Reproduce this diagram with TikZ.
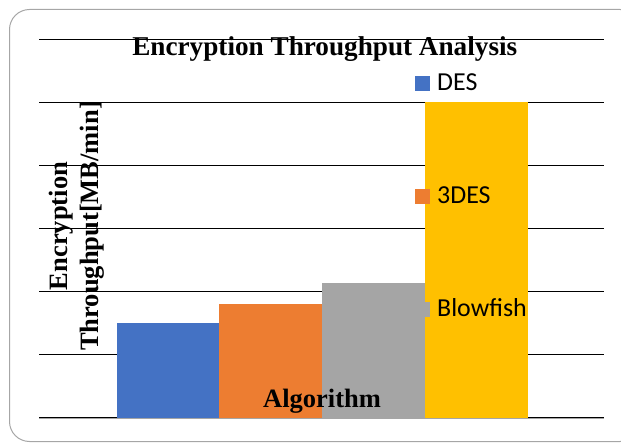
\documentclass[tikz,border=0pt]{standalone}
\usepackage{fontspec}
\setmainfont{Liberation Serif}
\newfontfamily\legfont{Carlito}
\definecolor{cdes}{HTML}{4472C4}
\definecolor{c3des}{HTML}{ED7D31}
\definecolor{cblow}{HTML}{A5A5A5}
\definecolor{cyel}{HTML}{FFC000}
\definecolor{frameg}{HTML}{A6A6A6}
\tikzset{
  grid line/.style={draw=black, line width=1.1pt},
  legtext/.style={font=\legfont\fontsize{25.9}{30}\selectfont, anchor=base west, inner sep=0pt},
  boldlab/.style={font=\bfseries\fontsize{26.5}{31}\selectfont, inner sep=0pt},
}
\begin{document}
\begin{tikzpicture}[x=1pt,y=-1pt]
\useasboundingbox (0,0) rectangle (621,443);
\clip (0,0) rectangle (621,443);
% frame
\draw[frameg, line width=1pt, rounded corners=20pt] (9.5,9.5) rectangle (640,441.5);
% gridlines
\foreach \i in {0,...,6}{
  \draw[grid line] (39.3,{39.3+63.03*\i}) -- (604.3,{39.3+63.03*\i});
}
% bars
\fill[cdes] (116.7,322.7) rectangle (219,417.7);
\fill[c3des] (219,304) rectangle (321.7,417.7);
\fill[cblow] (321.7,282.7) rectangle (425,417.7);
\fill[cyel] (425,101.7) rectangle (527.7,417.7);
% axis line
\draw[cblow, line width=1pt] (39.3,418.3) -- (604.3,418.3);
% title
\node[boldlab, font=\bfseries\fontsize{27.2}{31}\selectfont, anchor=base] (title) at (324.8,55.3) {Encryption Throughput Analysis};
% y label
\node[boldlab, rotate=90, align=center] (ylab) at (76.5,226) {Encryption\\Throughput[MB/min]};
% x label
\node[boldlab, anchor=base] (xlab) at (322,407.3) {Algorithm};
% legend
\fill[cdes] (415,76) rectangle (430,91);
\node[legtext] (l1) at (437,91) {DES};
\fill[c3des] (415,189) rectangle (430,204);
\node[legtext] (l2) at (437,204) {3DES};
\fill[cblow] (415,302) rectangle (430,317);
\node[legtext] (l3) at (437,316.7) {Blowfish};
\end{tikzpicture}
\end{document}
